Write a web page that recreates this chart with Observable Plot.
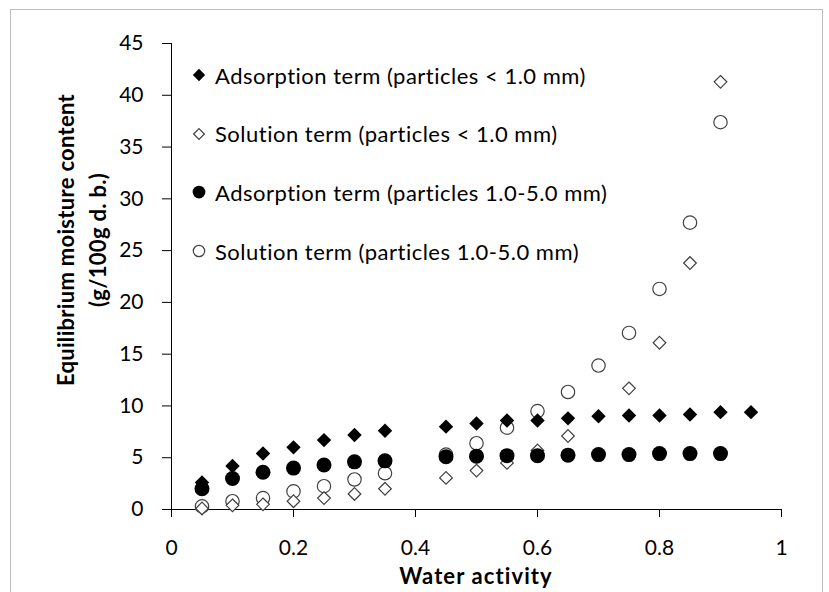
<!DOCTYPE html>
<html><head><meta charset="utf-8">
<script src="https://cdn.jsdelivr.net/npm/d3@7"></script>
<script src="https://cdn.jsdelivr.net/npm/@observablehq/plot@0.6"></script>
<style>
body{margin:0;background:#fff;}
#wrap{position:relative;width:829px;height:592px;overflow:hidden;font-family:Lato,"Open Sans",sans-serif;color:#000;}
#frame{position:absolute;left:10px;top:9px;width:813px;height:640px;border:1px solid #bdbdbd;box-sizing:border-box;}
#chart{position:absolute;left:0;top:0;}
.leg{position:absolute;left:190px;display:flex;align-items:center;font-size:22px;letter-spacing:0.5px;white-space:nowrap;}
.leg svg{width:18px;height:18px;margin-right:7px;overflow:visible;}
#xt{position:absolute;left:171px;width:610px;top:562px;text-align:center;font-weight:bold;font-size:22px;letter-spacing:1.1px;}
#yt{position:absolute;left:82px;top:240px;width:0;height:0;}
#yt div{position:absolute;transform:translate(-50%,-50%) rotate(-90deg);white-space:nowrap;text-align:center;font-weight:bold;font-size:22px;line-height:32px;letter-spacing:0.3px;}
</style></head>
<body><div id="wrap"><div id="frame"></div><div id="chart"></div><div id="xt"></div><div id="yt"><div></div></div></div>
<script>
const aw       = [0.05,0.1,0.15,0.2,0.25,0.3,0.35,0.45,0.5,0.55,0.6,0.65,0.7,0.75,0.8,0.85,0.9,0.95];
const adsSmall = [2.6,4.2,5.4,6.0,6.7,7.2,7.6,8.0,8.3,8.6,8.6,8.8,9.0,9.07,9.07,9.17,9.4,9.4];
const solSmall = [0.1,0.4,0.5,0.8,1.1,1.5,2.0,3.05,3.76,4.5,5.7,7.1,null,11.7,16.1,23.8,41.3,null];
const adsLarge = [2.0,3.0,3.6,4.0,4.3,4.6,4.7,5.1,5.15,5.2,5.2,5.25,5.3,5.3,5.4,5.4,5.4,null];
const solLarge = [0.3,0.8,1.1,1.75,2.25,2.9,3.5,5.3,6.4,7.9,9.5,11.35,13.9,17.05,21.3,27.7,37.4,null];
const seriesNames = [
  "Adsorption term (particles < 1.0 mm)",
  "Solution term (particles < 1.0 mm)",
  "Adsorption term (particles 1.0-5.0 mm)",
  "Solution term (particles 1.0-5.0 mm)"
];
const xTicks = [0,0.2,0.4,0.6,0.8,1];
const yTicks = [0,5,10,15,20,25,30,35,40,45];
const xTitle = "Water activity";
const yTitle = ["Equilibrium moisture content","(g/100g d. b.)"];

const styles = [
  {symbol:"diamond2", fill:"#000", stroke:"none", r:6.5},
  {symbol:"diamond2", fill:"#fff", stroke:"#404040", r:5.7},
  {symbol:"circle", fill:"#000", stroke:"none", r:7.5},
  {symbol:"circle", fill:"#fff", stroke:"#404040", r:6.7}
];
const valuesList = [adsSmall, solSmall, adsLarge, solLarge];
const rows = [];
valuesList.forEach((vals,i)=>vals.forEach((v,j)=>{ if(v!=null) rows.push({s:i,x:aw[j],y:v}); }));
// draw order: open circles, open diamonds, filled circles, filled diamonds
const order = [3,1,2,0];

const plot = Plot.plot({
  width: 829, height: 592,
  marginLeft: 171, marginRight: 48, marginTop: 43, marginBottom: 83,
  x: {domain:[0,1]},
  y: {domain:[0,45]},
  style: {fontFamily:"Lato, 'Open Sans', sans-serif", fontSize:"21px", color:"#000", background:"transparent", overflow:"visible"},
  marks: [
    Plot.axisX({ticks:xTicks, tickSize:8, tickPadding:23, fontSize:21, label:null, tickFormat:d=>String(d)}),
    Plot.axisY({ticks:yTicks, tickSize:9, tickPadding:19, fontSize:21, label:null, tickFormat:d=>String(d)}),
    Plot.ruleX([0],{stroke:"#000"}),
    Plot.ruleY([0],{stroke:"#000"}),
    ...order.map(i=>Plot.dot(rows.filter(d=>d.s===i),{x:"x",y:"y",symbol:()=>styles[i].symbol, r:styles[i].r, fill:styles[i].fill, stroke:styles[i].stroke, strokeWidth:1.2}))
  ]
});
document.getElementById("chart").append(plot);

// legend
const wrap = document.getElementById("wrap");
const symMap = {diamond2:d3.symbolDiamond2, circle:d3.symbolCircle};
seriesNames.forEach((name,i)=>{
  const st = styles[i];
  const div = document.createElement("div");
  div.className="leg";
  div.style.top = (75 + i*58.7 - 12) + "px";
  div.style.height = "24px";
  const r = st.r*0.85;
  const path = d3.symbol(symMap[st.symbol], r*r*Math.PI)();
  div.innerHTML = `<svg viewBox="-9 -9 18 18"><path d="${path}" fill="${st.fill}" stroke="${st.stroke}" stroke-width="1.2"/></svg><span>${name}</span>`;
  wrap.append(div);
});
document.getElementById("xt").textContent = xTitle;
document.querySelector("#yt div").innerHTML = yTitle.join("<br>");
</script></body></html>
